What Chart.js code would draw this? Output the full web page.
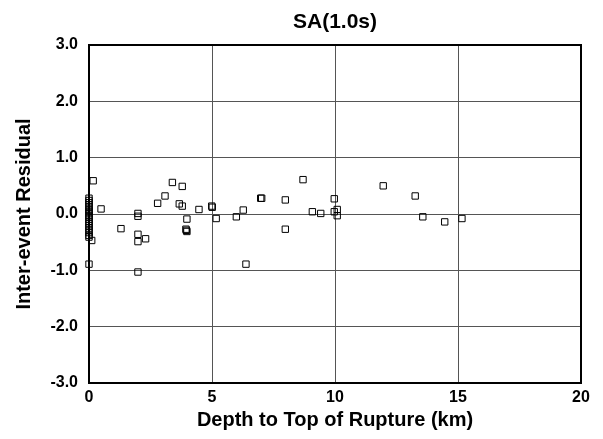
<!DOCTYPE html>
<html>
<head>
<meta charset="utf-8">
<script src="https://cdn.jsdelivr.net/npm/chart.js@4"></script>
<style>
  html, body { margin: 0; padding: 0; background: #fff; }
  canvas { display: block; }
</style>
</head>
<body>
<canvas id="myChart" width="603" height="439"></canvas>
<script>
// depth to top of rupture (km) and inter-event residual
const depth = [
  0.17, 0, 0, 0, 0, 0, 0, 0, 0, 0, 0, 0, 0, 0, 0, 0, 0, 0, 0, 0, 0.11, 0,
  0.49, 1.30, 1.99, 1.99, 1.99, 1.99, 2.30, 1.99,
  2.79, 3.09, 3.39, 3.79, 3.67, 3.79, 3.98, 3.94, 3.98, 3.96,
  4.47, 4.99, 5.01, 5.17, 5.99, 6.27, 6.98, 7.02, 7.98, 7.98, 8.70, 6.38,
  9.08, 9.42, 9.97, 9.97, 10.09, 10.09, 11.96, 13.26, 13.57, 14.46, 15.16
]
const residual = [
  0.59, 0.28, 0.24, 0.20, 0.16, 0.12, 0.08, 0.05, 0.02, -0.02, -0.05, -0.09,
  -0.13, -0.17, -0.21, -0.25, -0.29, -0.33, -0.38, -0.41, -0.47, -0.89,
  0.09, -0.26, 0.01, -0.04, -0.36, -0.49, -0.44, -1.03,
  0.19, 0.32, 0.56, 0.49, 0.18, 0.14, -0.09, -0.27, -0.31, -0.29,
  0.08, 0.14, 0.12, -0.08, -0.05, 0.07, 0.28, 0.28, 0.25, -0.27, 0.61, -0.89,
  0.04, 0.01, 0.27, 0.04, 0.08, -0.03, 0.50, 0.32, -0.05, -0.14, -0.08
]
const xTicks = [0, 5, 10, 15, 20]
const yTicks = [-3, -2, -1, 0, 1, 2, 3]

const points = depth.map((d, i) => ({ x: d, y: residual[i] }))

// box around the plot area
const frame = {
  id: 'frame',
  beforeDatasetsDraw(chart) {
    const a = chart.chartArea
    const c = chart.ctx
    c.save()
    c.strokeStyle = '#000'
    c.lineWidth = 2
    c.strokeRect(a.left, a.top, a.right - a.left, a.bottom - a.top)
    c.restore()
  }
}

const font = 'Liberation Sans, Arial, sans-serif'
Chart.defaults.font.family = font
Chart.defaults.color = '#000'

new Chart(document.getElementById('myChart'), {
  type: 'scatter',
  data: {
    datasets: [{
      data: points,
      clip: false,
      pointStyle: 'rect',
      pointRadius: 4.5,
      pointHoverRadius: 4.5,
      borderWidth: 1,
      borderColor: '#000',
      backgroundColor: 'rgba(0,0,0,0)'
    }]
  },
  options: {
    responsive: false,
    animation: false,
    layout: { padding: { left: 0, right: 22, top: 0, bottom: 0 } },
    plugins: {
      legend: { display: false },
      tooltip: { enabled: false },
      title: { display: false }
    },
    scales: {
      x: {
        type: 'linear',
        min: xTicks[0],
        max: xTicks[xTicks.length - 1],
        afterBuildTicks: s => { s.ticks = xTicks.map(v => ({ value: v })) },
        afterFit: s => { s.height = 56 },
        grid: { color: '#555', lineWidth: 1, drawTicks: false },
        border: { display: false },
        ticks: { padding: 5, font: { size: 16, weight: 'bold' }, color: '#000' },
        title: {
          display: true,
          text: 'Depth to Top of Rupture (km)',
          font: { size: 20, weight: 'bold' },
          color: '#000',
          padding: { top: 0, bottom: 6.5 }
        }
      },
      // top axis only carries the chart title, centred over the plot
      top: {
        type: 'linear',
        position: 'top',
        min: xTicks[0],
        max: xTicks[xTicks.length - 1],
        afterFit: s => { s.height = 45 },
        grid: { display: false },
        border: { display: false },
        ticks: { display: false },
        title: {
          display: true,
          text: 'SA(1.0s)',
          font: { size: 21, weight: 'bold' },
          color: '#000',
          padding: { top: 10, bottom: 0 }
        }
      },
      y: {
        type: 'linear',
        min: yTicks[0],
        max: yTicks[yTicks.length - 1],
        afterBuildTicks: s => { s.ticks = yTicks.map(v => ({ value: v })) },
        afterFit: s => { s.width = 89 },
        grid: { color: '#555', lineWidth: 1, drawTicks: false },
        border: { display: false },
        ticks: {
          padding: 11,
          font: { size: 16, weight: 'bold' },
          color: '#000',
          callback: v => v.toFixed(1)
        },
        title: {
          display: true,
          text: 'Inter-event Residual',
          font: { size: 20, weight: 'bold' },
          color: '#000',
          padding: { top: 12, bottom: 0 }
        }
      }
    }
  },
  plugins: [frame]
})
</script>
</body>
</html>
